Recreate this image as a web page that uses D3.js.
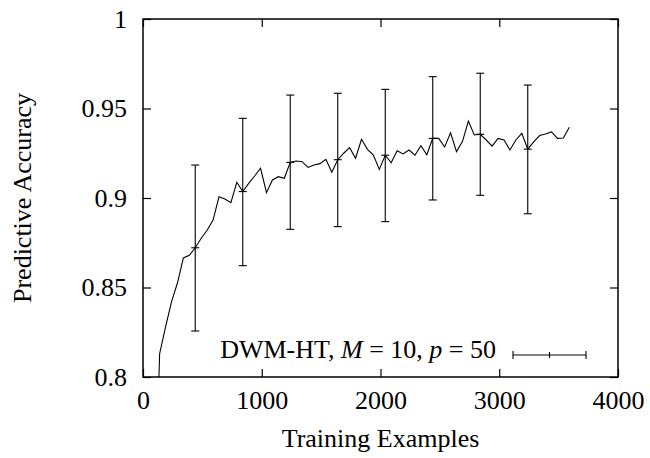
<!DOCTYPE html>
<html>
<head>
<meta charset="utf-8">
<script src="https://d3js.org/d3.v7.min.js"></script>
<style>
  body { margin: 0; background: #fff; }
  svg { display: block; font-family: "Liberation Serif", "Times New Roman", serif; }
</style>
</head>
<body>
<svg width="650" height="458"></svg>
<script>
// Training examples (x) and predictive accuracy (y)
var examples = [90, 140, 190, 240, 290, 340, 390, 440, 490, 540, 590, 640, 690, 740, 790, 840,
  890, 940, 990, 1040, 1090, 1140, 1190, 1240, 1290, 1340, 1390, 1440, 1490, 1540, 1590, 1640,
  1690, 1740, 1790, 1840, 1890, 1940, 1990, 2040, 2090, 2140, 2190, 2240, 2290, 2340, 2390, 2440,
  2490, 2540, 2590, 2640, 2690, 2740, 2790, 2840, 2890, 2940, 2990, 3040, 3090, 3140, 3190, 3240,
  3290, 3340, 3390, 3440, 3490, 3540, 3590];
var accuracy = [0.700, 0.813, 0.828, 0.842, 0.8525, 0.8665, 0.868, 0.8722, 0.8775, 0.882, 0.8877, 0.9007, 0.8994, 0.8974, 0.9088, 0.9036,
  0.9082, 0.9123, 0.9166, 0.903, 0.9101, 0.9119, 0.911, 0.9199, 0.9207, 0.9203, 0.9171, 0.9184, 0.9192, 0.9216, 0.9144, 0.9214,
  0.925, 0.9281, 0.9222, 0.9328, 0.9272, 0.924, 0.916, 0.9239, 0.9197, 0.9264, 0.9246, 0.9268, 0.9239, 0.9292, 0.9242, 0.9333,
  0.9333, 0.9285, 0.9364, 0.9259, 0.9315, 0.943, 0.9352, 0.9356, 0.9324, 0.929, 0.9333, 0.9324, 0.9268, 0.9324, 0.9361, 0.9273,
  0.9313, 0.9349, 0.9358, 0.9369, 0.9333, 0.9335, 0.9395];

// error bars
var errX = [440, 840, 1240, 1640, 2040, 2440, 2840, 3240];
var errMid = [0.8722, 0.9036, 0.9199, 0.9214, 0.9239, 0.9333, 0.9356, 0.9273];
var errLo = [0.8257, 0.8622, 0.8825, 0.8840, 0.8868, 0.8989, 0.9015, 0.8912];
var errHi = [0.9184, 0.9445, 0.9575, 0.9585, 0.9607, 0.9678, 0.9697, 0.9631];

var xTicks = [0, 1000, 2000, 3000, 4000];
var yTicks = [0.8, 0.85, 0.9, 0.95, 1];
var legendLabel = "DWM-HT, ";

var svg = d3.select("svg"),
  margin = {top: 19, right: 32, bottom: 81, left: 143},
  width = +svg.attr("width") - margin.left - margin.right,
  height = +svg.attr("height") - margin.top - margin.bottom,
  g = svg.append("g").attr("transform", "translate(" + margin.left + "," + margin.top + ")");

var x = d3.scaleLinear().domain([0, 4000]).range([0, width]);
var y = d3.scaleLinear().domain([0.8, 1]).range([height, 0]);

var fs = 26;

svg.append("defs").append("clipPath").attr("id", "clip")
  .append("rect").attr("width", width).attr("height", height);

// axes, ticks pointing inward on all four sides
var tk = 8;
g.append("g").attr("transform", "translate(0," + height + ")")
  .call(d3.axisBottom(x).tickValues(xTicks).tickSizeInner(-tk).tickSizeOuter(0).tickPadding(14).tickFormat(d3.format("d")));
g.append("g")
  .call(d3.axisTop(x).tickValues(xTicks).tickSizeInner(-tk).tickSizeOuter(0).tickFormat(""));
g.append("g")
  .call(d3.axisLeft(y).tickValues(yTicks).tickSizeInner(-tk).tickSizeOuter(0).tickPadding(16).tickFormat(d3.format("")));
g.append("g").attr("transform", "translate(" + width + ",0)")
  .call(d3.axisRight(y).tickValues(yTicks).tickSizeInner(-tk).tickSizeOuter(0).tickFormat(""));

g.selectAll(".domain").remove();
g.selectAll(".tick line").attr("stroke", "#000").attr("stroke-width", 1.2);
g.selectAll(".tick text").attr("font-family", "Liberation Serif").attr("font-size", fs).attr("fill", "#000");

g.append("rect")
  .attr("width", width).attr("height", height)
  .attr("fill", "none").attr("stroke", "#000").attr("stroke-width", 1.5);

// data line
var pts = examples.map(function(d, i) { return [d, accuracy[i]]; });
var line = d3.line().x(function(d) { return x(d[0]); }).y(function(d) { return y(d[1]); });
g.append("path")
  .datum(pts)
  .attr("clip-path", "url(#clip)")
  .attr("d", line)
  .attr("fill", "none")
  .attr("stroke", "#000")
  .attr("stroke-width", 1.1);

// error bars
var cap = 4;
var eb = g.append("g").attr("stroke", "#000").attr("stroke-width", 1.1)
  .selectAll("g").data(errX).enter().append("g");
eb.append("line")
  .attr("x1", function(d) { return x(d); }).attr("x2", function(d) { return x(d); })
  .attr("y1", function(d, i) { return y(errLo[i]); }).attr("y2", function(d, i) { return y(errHi[i]); });
eb.append("line")
  .attr("x1", function(d) { return x(d) - cap; }).attr("x2", function(d) { return x(d) + cap; })
  .attr("y1", function(d, i) { return y(errLo[i]); }).attr("y2", function(d, i) { return y(errLo[i]); });
eb.append("line")
  .attr("x1", function(d) { return x(d) - cap; }).attr("x2", function(d) { return x(d) + cap; })
  .attr("y1", function(d, i) { return y(errHi[i]); }).attr("y2", function(d, i) { return y(errHi[i]); });
eb.append("line")
  .attr("x1", function(d) { return x(d) - cap; }).attr("x2", function(d) { return x(d) + cap; })
  .attr("y1", function(d, i) { return y(errMid[i]); }).attr("y2", function(d, i) { return y(errMid[i]); });

// legend
var lx = 353, ly = 339;
var lt = g.append("text")
  .attr("x", lx).attr("y", ly)
  .attr("text-anchor", "end")
  .attr("font-size", fs)
  .attr("fill", "#000");
lt.append("tspan").text(legendLabel);
lt.append("tspan").attr("font-style", "italic").text("M");
lt.append("tspan").text(" = 10, ");
lt.append("tspan").attr("font-style", "italic").text("p");
lt.append("tspan").text(" = 50");

var lg = g.append("g").attr("stroke", "#000").attr("stroke-width", 1.1)
  .attr("transform", "translate(0," + (ly - 3) + ")");
lg.append("line").attr("x1", 370).attr("x2", 443).attr("y1", 0).attr("y2", 0);
lg.append("line").attr("x1", 370).attr("x2", 370).attr("y1", -cap).attr("y2", cap);
lg.append("line").attr("x1", 443).attr("x2", 443).attr("y1", -cap).attr("y2", cap);
lg.append("line").attr("x1", 406.5).attr("x2", 406.5).attr("y1", -3).attr("y2", 3);

// axis titles
svg.append("text")
  .attr("x", margin.left + width / 2)
  .attr("y", 447)
  .attr("text-anchor", "middle")
  .attr("font-size", fs)
  .attr("fill", "#000")
  .text("Training Examples");

svg.append("text")
  .attr("transform", "translate(31," + (margin.top + height / 2) + ") rotate(-90)")
  .attr("text-anchor", "middle")
  .attr("font-size", fs)
  .attr("fill", "#000")
  .text("Predictive Accuracy");
</script>
</body>
</html>
